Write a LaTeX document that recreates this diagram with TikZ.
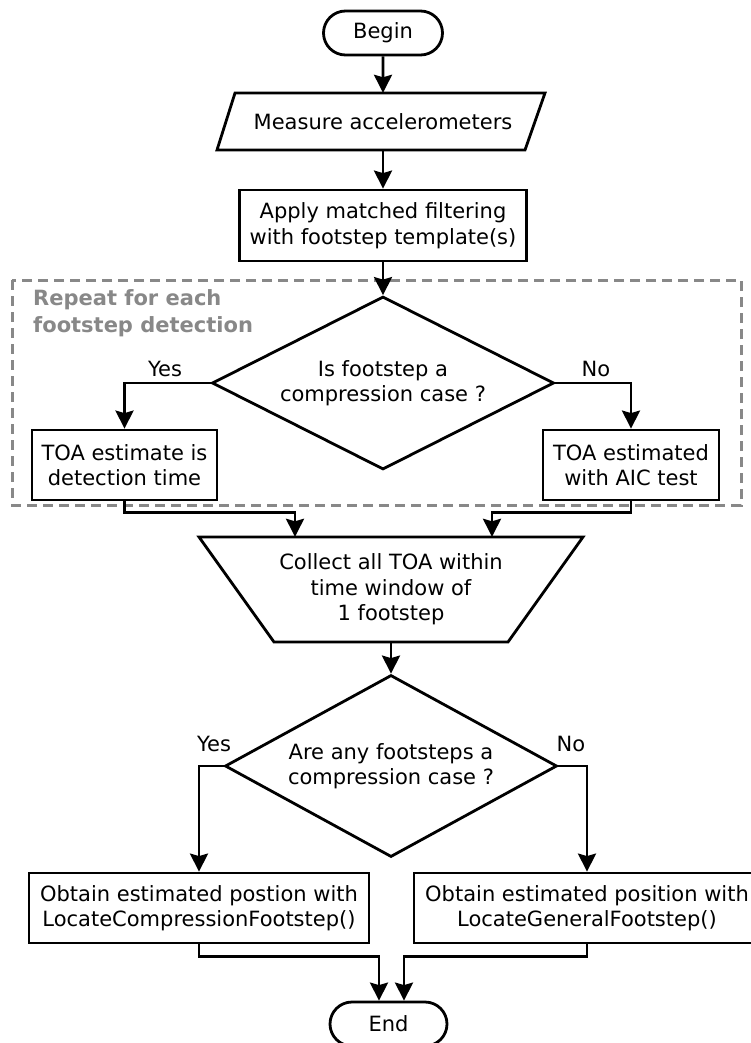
\documentclass[tikz,border=0pt]{standalone}
\usepackage{fontspec}
\setmainfont{DejaVu Sans}
\usetikzlibrary{shapes.geometric,shapes.misc,arrows.meta}
\definecolor{boxgray}{RGB}{136,136,136}
\begin{document}
\begin{tikzpicture}[x=1pt,y=-1pt,
  every node/.style={font=\fontsize{21}{25.5}\selectfont, align=center, inner sep=0pt},
  lw/.style={line width=2.8pt},
  proc/.style={draw, lw, rectangle, fill=white},
  term/.style={draw, lw, rounded rectangle},
  decide/.style={draw, lw, diamond},
  arr/.style={lw, -{Stealth[length=18pt,width=18pt,inset=2.5pt]}}]
\useasboundingbox (0,0) rectangle (751,1043);
% repeat frame
\draw[boxgray, line width=3pt, dash pattern=on 10pt off 6pt] (12,280) rectangle (741,505);
\node[anchor=north west, text=boxgray, align=left, font=\fontsize{21}{27}\selectfont\bfseries] (rep) at (33,289) {Repeat for each\\footstep detection};
% top chain
\node[term, minimum width=119pt, minimum height=44pt] (begin) at (383,33) {Begin};
\draw[lw] (235,93) -- (545,93) -- (525,150) -- (217,150) -- cycle;
\node[minimum width=290pt, minimum height=57pt] (measure) at (383,121.5) {Measure accelerometers};
\node[proc, minimum width=287pt, minimum height=71pt] (apply) at (383,225.5) {Apply matched filtering\\with footstep template(s)};
\node[decide, aspect=1.977, minimum width=342pt, minimum height=173pt] (d1) at (383,383) {Is footstep a\\compression case ?};
\node[proc, minimum width=185pt, minimum height=70pt] (l1) at (124.5,465) {TOA estimate is\\detection time};
\node[proc, minimum width=176pt, minimum height=70pt] (r1) at (631,465) {TOA estimated\\with AIC test};
\node (yes1) at (165,369) {Yes};
\node (no1) at (596,369) {No};
\draw[arr] (begin) -- (measure);
\draw[arr] (measure) -- (apply);
\draw[arr] (apply) -- (d1);
\draw[arr] (d1.west) -| (l1.north);
\draw[arr] (d1.east) -| (r1.north);
% collect
\draw[lw] (199,537) -- (583,537) -- (508,642) -- (274,642) -- cycle;
\node[minimum width=384pt, minimum height=105pt] (collect) at (391,589.5) {Collect all TOA within\\time window of\\1 footstep};
\draw[arr] (l1.south) -- ++(0,11) -| ([xshift=-96pt]collect.north);
\draw[arr] (r1.south) -- ++(0,11) -| ([xshift=101pt]collect.north);
% second decision
\node[decide, aspect=1.824, minimum width=332pt, minimum height=182pt] (d2) at (391,766) {Are any footsteps a\\compression case ?};
\draw[arr] (collect) -- (d2);
\node (yes2) at (214,744) {Yes};
\node (no2) at (571,744) {No};
\node[proc, minimum width=340pt, minimum height=70pt] (l2) at (199,908) {Obtain estimated postion with\\LocateCompressionFootstep()};
\node[proc, minimum width=346pt, minimum height=70pt] (r2) at (587,908) {Obtain estimated position with\\LocateGeneralFootstep()};
\draw[arr] (d2.west) -| (l2.north);
\draw[arr] (d2.east) -| (r2.north);
\node[term, minimum width=117pt, minimum height=44pt] (end) at (388.5,1024) {End};
\draw[arr] (l2.south) -- ++(0,12) -| ([xshift=-9.5pt]end.north);
\draw[arr] (r2.south) -- ++(0,12) -| ([xshift=15.5pt]end.north);
\end{tikzpicture}
\end{document}
